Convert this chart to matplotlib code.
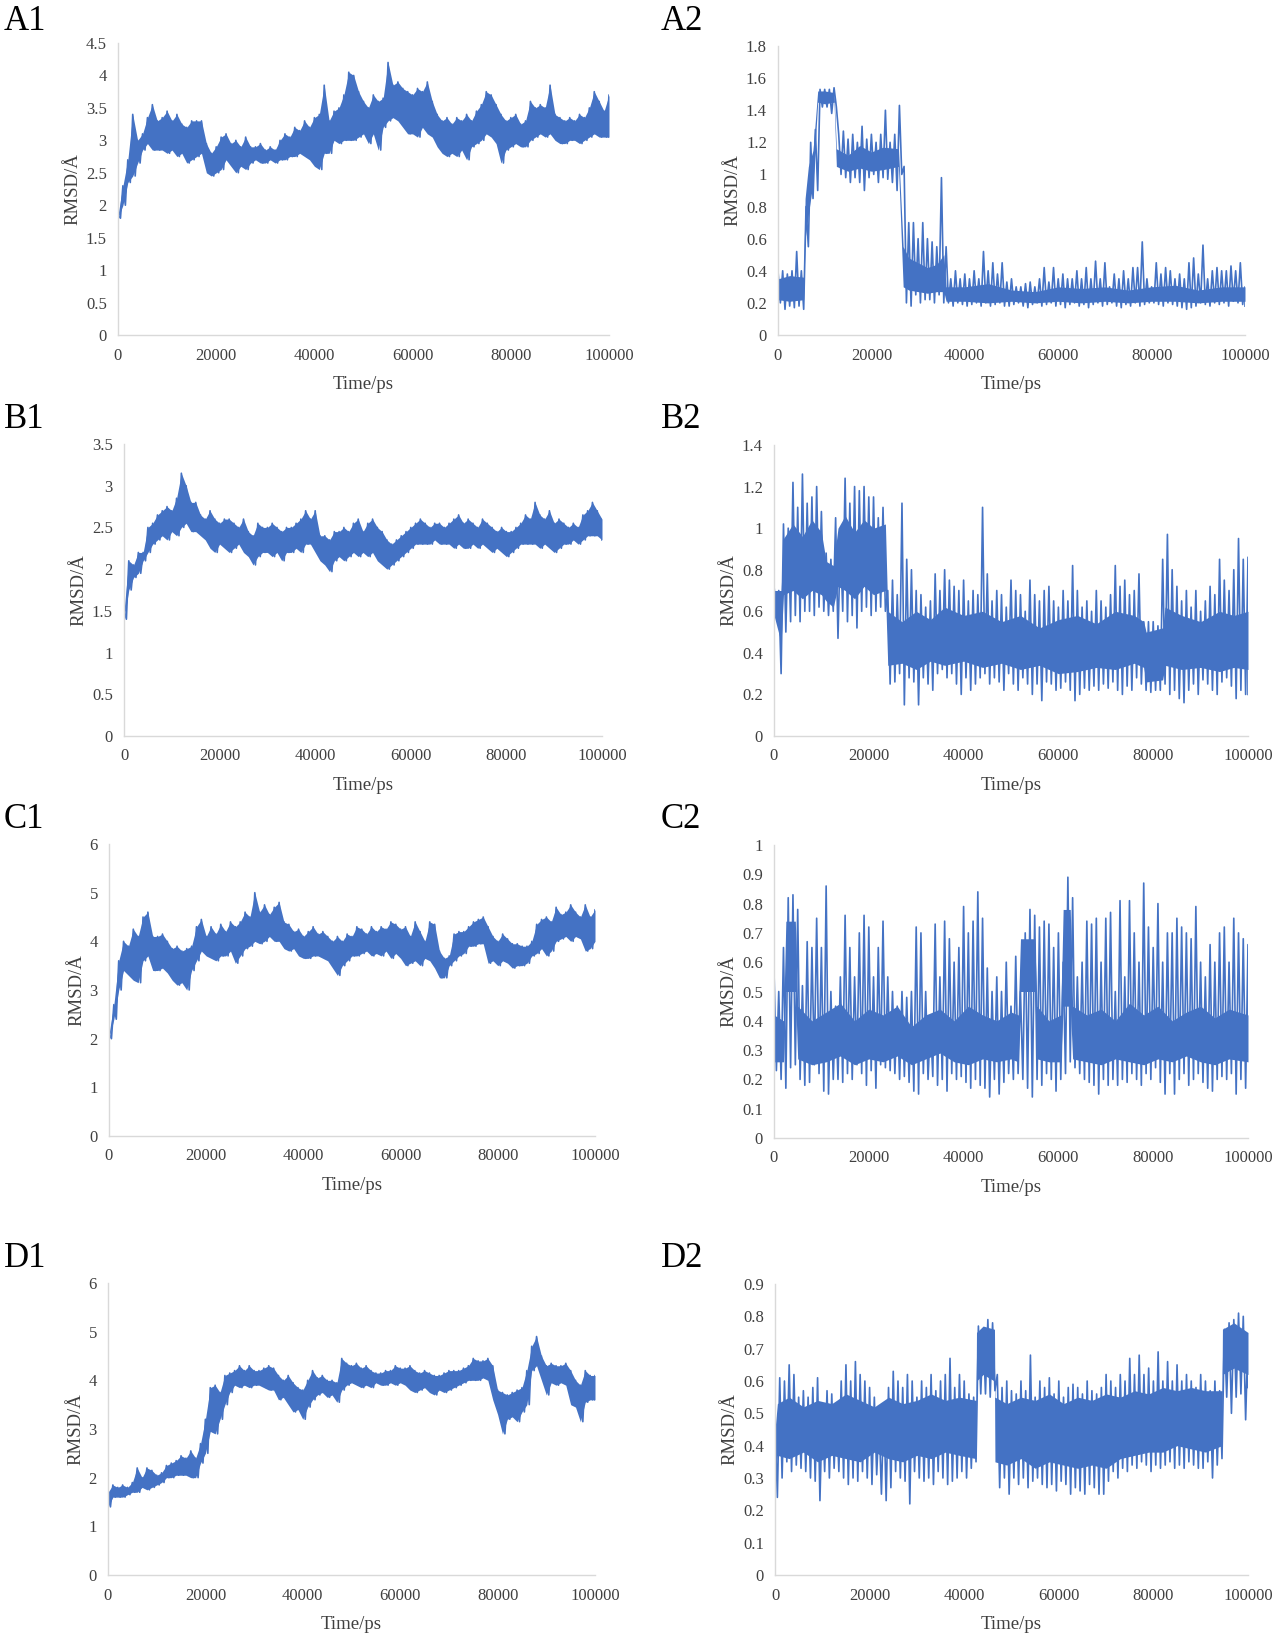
import numpy as np
import matplotlib
matplotlib.use("Agg")
import matplotlib.pyplot as plt
from matplotlib.ticker import FuncFormatter

plt.rcParams['font.family'] = ['Liberation Serif', 'DejaVu Serif']

# time axis (ps), one upper and one lower value read per 1000 ps
time_ps = list(range(0, 100001, 1000))

# ---- A1 ----
a1_hi = [1.85, 2.3, 2.7, 3.4, 3.0, 3.1, 3.35, 3.55, 3.3, 3.35, 3.45, 3.3, 3.4, 3.25, 3.2, 3.3, 3.3, 3.3, 2.95, 2.8,
         2.9, 3.05, 3.1, 2.95, 3.0, 2.9, 3.05, 2.9, 2.9, 2.95, 2.85, 2.9, 2.85, 3.0, 3.1, 3.05, 3.2, 3.15, 3.3, 3.2,
         3.35, 3.4, 3.85, 3.3, 3.45, 3.5, 3.7, 4.05, 4.0, 3.75, 3.6, 3.5, 3.7, 3.6, 3.65, 4.2, 3.85, 3.9, 3.8, 3.75,
         3.7, 3.8, 3.75, 3.9, 3.6, 3.4, 3.3, 3.35, 3.25, 3.35, 3.3, 3.4, 3.3, 3.45, 3.55, 3.75, 3.7, 3.55, 3.4, 3.3,
         3.35, 3.4, 3.25, 3.3, 3.6, 3.5, 3.55, 3.5, 3.85, 3.4, 3.35, 3.3, 3.35, 3.3, 3.4, 3.35, 3.5, 3.75, 3.6, 3.45,
         3.7]
a1_lo = [1.8, 2.0, 2.35, 2.45, 2.65, 2.85, 2.95, 2.85, 2.85, 2.85, 2.8, 2.85, 2.75, 2.8, 2.65, 2.7, 2.75, 2.8, 2.5, 2.45,
         2.5, 2.55, 2.7, 2.6, 2.5, 2.6, 2.55, 2.65, 2.7, 2.65, 2.65, 2.7, 2.65, 2.7, 2.7, 2.75, 2.75, 2.8, 2.75, 2.7,
         2.6, 2.55, 2.8, 2.8, 3.0, 2.95, 3.0, 3.0, 3.0, 3.05, 3.1, 2.95, 3.1, 2.85, 3.2, 3.3, 3.35, 3.3, 3.2, 3.1,
         3.1, 3.05, 3.2, 3.1, 3.05, 2.9, 2.8, 2.75, 2.8, 2.75, 2.85, 2.7, 2.9, 2.95, 3.0, 3.1, 3.05, 2.95, 2.65, 2.85,
         2.9, 2.95, 2.9, 2.9, 3.0, 3.05, 3.1, 3.05, 3.1, 3.0, 2.95, 2.95, 3.0, 3.0, 2.95, 3.0, 3.05, 3.1, 3.05, 3.05,
         3.05]

# ---- A2 ----
a2_hi = [0.4, 0.4, 0.38, 0.4, 0.52, 0.4, 0.8, 1.2, 1.28, 1.53, 1.53, 1.53, 1.54, 1.25, 1.27, 1.22, 1.25, 1.2, 1.3, 1.22,
         1.25, 1.2, 1.25, 1.4, 1.2, 1.25, 1.43, 1.05, 0.7, 0.7, 0.6, 0.7, 0.6, 0.58, 0.55, 0.98, 0.55, 0.35, 0.4, 0.35,
         0.38, 0.35, 0.4, 0.35, 0.52, 0.4, 0.45, 0.38, 0.45, 0.33, 0.35, 0.3, 0.3, 0.32, 0.33, 0.3, 0.35, 0.42, 0.33, 0.42,
         0.35, 0.38, 0.35, 0.35, 0.4, 0.35, 0.42, 0.35, 0.46, 0.35, 0.45, 0.3, 0.38, 0.35, 0.4, 0.35, 0.42, 0.42, 0.58, 0.35,
         0.3, 0.45, 0.38, 0.42, 0.4, 0.35, 0.38, 0.35, 0.45, 0.48, 0.38, 0.56, 0.35, 0.4, 0.42, 0.4, 0.4, 0.43, 0.4, 0.45,
         0.3]
a2_lo = [0.2, 0.16, 0.18, 0.17, 0.18, 0.16, 0.55, 0.85, 0.9, 1.42, 1.42, 1.38, 1.42, 1.0, 0.98, 0.95, 0.98, 0.95, 0.9, 0.98,
         1.0, 0.95, 0.98, 0.97, 0.95, 0.9, 1.0, 0.2, 0.18, 0.25, 0.2, 0.22, 0.22, 0.2, 0.25, 0.2, 0.2, 0.18, 0.2, 0.19,
         0.18, 0.19, 0.2, 0.18, 0.2, 0.18, 0.19, 0.2, 0.18, 0.18, 0.19, 0.2, 0.18, 0.17, 0.19, 0.2, 0.18, 0.19, 0.2, 0.18,
         0.19, 0.17, 0.19, 0.2, 0.18, 0.19, 0.17, 0.19, 0.2, 0.18, 0.19, 0.2, 0.18, 0.17, 0.19, 0.18, 0.2, 0.18, 0.19, 0.2,
         0.2, 0.19, 0.18, 0.2, 0.19, 0.18, 0.17, 0.16, 0.17, 0.18, 0.2, 0.19, 0.18, 0.2, 0.19, 0.2, 0.18, 0.21, 0.2, 0.19,
         0.18]
# dense core of the A2 trace (breakpoints)
a2_core_t = [0, 2500, 5500, 5800, 6500, 7500, 8500, 10000, 12000, 12500, 15000, 17500, 20000, 22500, 25800, 26800,
             28000, 30000, 32000, 34000, 35500, 36000, 40000, 45000, 50000, 55000, 60000, 65000, 70000, 75000, 80000,
             85000, 90000, 95000, 100000]
a2_core_lo = [0.22, 0.21, 0.22, 0.6, 0.75, 0.95, 1.45, 1.44, 1.45, 1.05, 1.02, 1.04, 1.02, 1.03, 1.05, 0.3,
              0.28, 0.27, 0.26, 0.27, 0.27, 0.21, 0.21, 0.2, 0.21, 0.2, 0.21, 0.2, 0.21, 0.2, 0.21,
              0.21, 0.2, 0.21, 0.21]
a2_core_hi = [0.35, 0.37, 0.36, 0.85, 1.05, 1.15, 1.52, 1.52, 1.51, 1.16, 1.12, 1.18, 1.14, 1.17, 1.16, 0.55,
              0.48, 0.45, 0.42, 0.44, 0.5, 0.3, 0.3, 0.32, 0.28, 0.27, 0.3, 0.29, 0.3, 0.28, 0.3,
              0.31, 0.28, 0.3, 0.3]

# ---- B1 ----
b1_hi = [1.5, 2.1, 2.05, 2.2, 2.2, 2.5, 2.55, 2.65, 2.7, 2.75, 2.7, 2.85, 3.15, 3.0, 2.8, 2.8, 2.65, 2.6, 2.7, 2.6,
         2.55, 2.6, 2.6, 2.55, 2.5, 2.6, 2.45, 2.4, 2.55, 2.5, 2.5, 2.55, 2.5, 2.45, 2.5, 2.5, 2.55, 2.6, 2.7, 2.6,
         2.7, 2.4, 2.4, 2.35, 2.45, 2.45, 2.5, 2.45, 2.55, 2.6, 2.45, 2.55, 2.6, 2.5, 2.45, 2.35, 2.3, 2.35, 2.4, 2.45,
         2.5, 2.55, 2.6, 2.55, 2.5, 2.55, 2.55, 2.5, 2.55, 2.6, 2.65, 2.55, 2.6, 2.55, 2.5, 2.6, 2.55, 2.5, 2.45, 2.5,
         2.45, 2.45, 2.5, 2.55, 2.65, 2.6, 2.8, 2.65, 2.6, 2.7, 2.55, 2.6, 2.55, 2.5, 2.55, 2.5, 2.65, 2.7, 2.8, 2.7,
         2.6]
b1_lo = [1.4, 1.75, 1.9, 1.95, 2.1, 2.2, 2.3, 2.35, 2.4, 2.35, 2.45, 2.4, 2.5, 2.55, 2.45, 2.45, 2.4, 2.35, 2.25, 2.2,
         2.3, 2.25, 2.2, 2.25, 2.3, 2.2, 2.15, 2.05, 2.15, 2.2, 2.2, 2.15, 2.2, 2.1, 2.2, 2.2, 2.25, 2.2, 2.3, 2.3,
         2.2, 2.1, 2.05, 1.97, 2.1, 2.15, 2.1, 2.15, 2.2, 2.15, 2.2, 2.15, 2.2, 2.1, 2.05, 2.0, 2.05, 2.1, 2.15, 2.2,
         2.25, 2.3, 2.3, 2.3, 2.3, 2.35, 2.3, 2.3, 2.3, 2.25, 2.3, 2.25, 2.25, 2.3, 2.25, 2.3, 2.25, 2.2, 2.25, 2.2,
         2.15, 2.2, 2.25, 2.3, 2.3, 2.3, 2.3, 2.25, 2.3, 2.25, 2.2, 2.25, 2.3, 2.3, 2.35, 2.3, 2.35, 2.4, 2.4, 2.4,
         2.35]

# ---- B2 ----
b2_hi = [0.72, 0.7, 1.02, 1.0, 1.22, 1.1, 1.26, 1.12, 1.15, 1.2, 1.08, 0.88, 0.85, 1.05, 0.95, 1.24, 1.12, 1.2, 1.18, 1.2,
         1.15, 1.15, 1.05, 1.1, 0.7, 0.75, 0.68, 1.12, 0.85, 0.8, 0.7, 0.68, 0.62, 0.65, 0.78, 0.7, 0.8, 0.75, 0.72, 0.7,
         0.75, 0.65, 0.7, 0.68, 1.1, 0.78, 0.65, 0.7, 0.68, 0.62, 0.75, 0.7, 0.68, 0.6, 0.75, 0.68, 0.65, 0.7, 0.72, 0.65,
         0.62, 0.7, 0.65, 0.82, 0.7, 0.62, 0.65, 0.6, 0.7, 0.65, 0.62, 0.68, 0.82, 0.72, 0.75, 0.68, 0.7, 0.78, 0.55, 0.55,
         0.55, 0.53, 0.85, 0.97, 0.8, 0.72, 0.65, 0.7, 0.62, 0.7, 0.6, 0.65, 0.72, 0.68, 0.85, 0.75, 0.7, 0.8, 0.95, 0.85,
         0.86]
b2_lo = [0.6, 0.3, 0.5, 0.55, 0.58, 0.55, 0.6, 0.6, 0.58, 0.62, 0.6, 0.58, 0.6, 0.47, 0.6, 0.55, 0.58, 0.52, 0.6, 0.62,
         0.58, 0.6, 0.62, 0.6, 0.25, 0.26, 0.3, 0.15, 0.28, 0.26, 0.15, 0.28, 0.25, 0.22, 0.3, 0.32, 0.28, 0.3, 0.25, 0.2,
         0.28, 0.22, 0.25, 0.28, 0.3, 0.25, 0.28, 0.26, 0.22, 0.3, 0.25, 0.22, 0.28, 0.25, 0.2, 0.25, 0.17, 0.26, 0.25, 0.22,
         0.23, 0.26, 0.22, 0.17, 0.2, 0.23, 0.22, 0.24, 0.22, 0.25, 0.23, 0.26, 0.22, 0.2, 0.24, 0.22, 0.28, 0.25, 0.22, 0.21,
         0.22, 0.22, 0.25, 0.2, 0.22, 0.18, 0.16, 0.22, 0.25, 0.2, 0.27, 0.25, 0.22, 0.2, 0.26, 0.28, 0.24, 0.18, 0.22, 0.2,
         0.2]
b2_core_t = [0, 1500, 2000, 4000, 6000, 8000, 10000, 11000, 12500, 13500, 15000, 17000, 19000, 21000, 23500, 24000,
             27000, 30000, 33000, 36000, 40000, 44000, 48000, 52000, 56000, 60000, 64000, 68000, 72000, 76000, 78000,
             78500, 82000, 82500, 86000, 90000, 94000, 97000, 100000]
b2_core_lo = [0.58, 0.45, 0.68, 0.7, 0.66, 0.7, 0.68, 0.65, 0.62, 0.72, 0.7, 0.66, 0.72, 0.68, 0.7, 0.34,
              0.35, 0.32, 0.36, 0.34, 0.36, 0.33, 0.35, 0.32, 0.34, 0.3, 0.31, 0.33, 0.32, 0.35, 0.33,
              0.26, 0.27, 0.34, 0.32, 0.33, 0.31, 0.33, 0.32]
b2_core_hi = [0.7, 0.7, 0.95, 1.02, 0.96, 1.04, 0.98, 0.84, 0.82, 1.0, 1.06, 0.98, 1.04, 1.0, 1.02, 0.6,
              0.55, 0.6, 0.56, 0.62, 0.58, 0.6, 0.55, 0.58, 0.52, 0.56, 0.58, 0.54, 0.6, 0.58, 0.55,
              0.5, 0.52, 0.62, 0.58, 0.55, 0.6, 0.58, 0.6]

# ---- C1 ----
c1_hi = [2.1, 2.7, 3.6, 4.0, 3.9, 4.25, 4.1, 4.5, 4.6, 4.1, 4.1, 4.15, 4.0, 3.85, 3.9, 3.8, 3.85, 3.9, 4.3, 4.45,
         4.1, 4.3, 4.15, 4.35, 4.2, 4.4, 4.3, 4.4, 4.6, 4.5, 5.0, 4.6, 4.75, 4.55, 4.7, 4.8, 4.4, 4.35, 4.2, 4.25,
         4.1, 4.2, 4.3, 4.15, 4.2, 4.1, 4.0, 4.1, 4.0, 4.15, 4.1, 4.3, 4.25, 4.15, 4.3, 4.2, 4.3, 4.25, 4.4, 4.35,
         4.25, 4.3, 4.1, 4.4, 4.2, 4.0, 4.4, 4.35, 3.8, 3.65, 3.7, 4.15, 4.2, 4.2, 4.3, 4.4, 4.45, 4.5, 4.3, 4.1,
         4.0, 4.15, 4.05, 3.95, 3.95, 3.9, 3.9, 4.0, 4.35, 4.45, 4.5, 4.4, 4.7, 4.55, 4.6, 4.75, 4.6, 4.5, 4.75, 4.5,
         4.65]
c1_lo = [2.0, 2.4, 3.0, 3.4, 3.3, 3.2, 3.15, 3.6, 3.7, 3.4, 3.4, 3.45, 3.35, 3.2, 3.1, 3.15, 3.0, 3.4, 3.6, 3.8,
         3.7, 3.65, 3.6, 3.7, 3.7, 3.8, 3.55, 3.7, 3.85, 3.9, 4.0, 3.95, 4.0, 4.1, 4.0, 4.0, 3.85, 3.8, 3.85, 3.7,
         3.65, 3.65, 3.7, 3.7, 3.65, 3.6, 3.45, 3.3, 3.5, 3.6, 3.7, 3.7, 3.75, 3.8, 3.7, 3.75, 3.7, 3.8, 3.65, 3.75,
         3.65, 3.5, 3.55, 3.6, 3.5, 3.65, 3.6, 3.45, 3.25, 3.25, 3.5, 3.6, 3.7, 3.75, 3.9, 3.9, 3.95, 3.95, 3.55, 3.6,
         3.5, 3.6, 3.55, 3.45, 3.5, 3.5, 3.55, 3.7, 3.75, 3.85, 3.7, 3.8, 4.0, 4.05, 4.1, 4.0, 4.1, 4.05, 3.8, 3.85,
         4.0]

# ---- C2 ----
c2_hi = [0.57, 0.5, 0.65, 0.82, 0.83, 0.78, 0.52, 0.67, 0.65, 0.75, 0.65, 0.86, 0.5, 0.45, 0.55, 0.76, 0.65, 0.55, 0.7, 0.76,
         0.72, 0.55, 0.65, 0.74, 0.55, 0.5, 0.45, 0.5, 0.48, 0.5, 0.72, 0.7, 0.5, 0.4, 0.73, 0.55, 0.74, 0.68, 0.6, 0.65,
         0.79, 0.7, 0.74, 0.84, 0.75, 0.58, 0.5, 0.55, 0.5, 0.6, 0.45, 0.62, 0.5, 0.7, 0.78, 0.76, 0.72, 0.74, 0.73, 0.65,
         0.7, 0.6, 0.89, 0.82, 0.55, 0.6, 0.74, 0.73, 0.75, 0.6, 0.75, 0.77, 0.5, 0.81, 0.55, 0.81, 0.7, 0.6, 0.87, 0.72,
         0.65, 0.8, 0.6, 0.7, 0.7, 0.75, 0.72, 0.7, 0.68, 0.79, 0.6, 0.55, 0.66, 0.6, 0.7, 0.72, 0.6, 0.75, 0.7, 0.68,
         0.66]
c2_lo = [0.23, 0.2, 0.17, 0.24, 0.25, 0.2, 0.18, 0.19, 0.25, 0.22, 0.16, 0.15, 0.2, 0.2, 0.19, 0.22, 0.2, 0.25, 0.22, 0.18,
         0.23, 0.17, 0.25, 0.24, 0.23, 0.22, 0.2, 0.21, 0.19, 0.16, 0.15, 0.22, 0.2, 0.21, 0.18, 0.2, 0.16, 0.22, 0.2, 0.21,
         0.19, 0.17, 0.2, 0.18, 0.17, 0.14, 0.2, 0.15, 0.19, 0.22, 0.2, 0.22, 0.2, 0.17, 0.14, 0.2, 0.18, 0.22, 0.2, 0.16,
         0.2, 0.22, 0.26, 0.24, 0.22, 0.2, 0.19, 0.18, 0.15, 0.2, 0.18, 0.2, 0.18, 0.2, 0.19, 0.22, 0.2, 0.18, 0.22, 0.2,
         0.24, 0.19, 0.15, 0.22, 0.15, 0.2, 0.22, 0.18, 0.2, 0.22, 0.19, 0.17, 0.16, 0.2, 0.21, 0.2, 0.22, 0.15, 0.2, 0.17,
         0.3]
c2_core_t = [0, 2000, 2500, 4500, 5000, 8000, 11000, 14000, 17000, 20000, 23000, 26000, 29000, 32000, 35000, 38000,
             41000, 44000, 47000, 50000, 51500, 52000, 55000, 55500, 58000, 60500, 61000, 62500, 63000, 66000, 69000,
             72000, 75000, 78000, 81000, 84000, 87000, 90000, 93000, 96000, 100000]
c2_core_lo = [0.26, 0.26, 0.5, 0.5, 0.27, 0.25, 0.26, 0.28, 0.25, 0.27, 0.26, 0.28, 0.25, 0.27, 0.29, 0.26,
              0.25, 0.27, 0.26, 0.27, 0.26, 0.5, 0.5, 0.27, 0.26, 0.26, 0.45, 0.45, 0.27, 0.26, 0.25,
              0.27, 0.26, 0.25, 0.27, 0.26, 0.28, 0.26, 0.25, 0.27, 0.26]
c2_core_hi = [0.42, 0.4, 0.74, 0.74, 0.45, 0.4, 0.43, 0.46, 0.4, 0.44, 0.42, 0.45, 0.38, 0.42, 0.44, 0.4,
              0.45, 0.42, 0.4, 0.43, 0.42, 0.68, 0.68, 0.45, 0.4, 0.42, 0.78, 0.78, 0.45, 0.42, 0.44,
              0.4, 0.46, 0.42, 0.45, 0.4, 0.43, 0.45, 0.41, 0.44, 0.42]

# ---- D1 ----
d1_hi = [1.7, 1.85, 1.8, 1.85, 1.8, 1.9, 2.2, 2.0, 2.2, 2.15, 2.05, 2.1, 2.25, 2.3, 2.35, 2.45, 2.4, 2.55, 2.4, 2.7,
         3.2, 3.85, 3.9, 3.75, 4.1, 4.15, 4.2, 4.3, 4.2, 4.3, 4.2, 4.2, 4.25, 4.3, 4.25, 4.1, 4.0, 4.1, 3.95, 3.85,
         3.8, 4.0, 4.2, 4.05, 4.1, 4.0, 4.0, 3.95, 4.45, 4.35, 4.3, 4.35, 4.25, 4.3, 4.2, 4.15, 4.15, 4.2, 4.2, 4.3,
         4.25, 4.25, 4.3, 4.2, 4.15, 4.2, 4.15, 4.1, 4.1, 4.15, 4.2, 4.2, 4.2, 4.25, 4.3, 4.45, 4.4, 4.4, 4.45, 4.3,
         3.8, 3.75, 3.7, 3.75, 3.8, 3.85, 4.2, 4.7, 4.9, 4.5, 4.3, 4.35, 4.3, 4.3, 4.35, 4.2, 4.0, 3.9, 4.2, 4.1,
         4.1]
d1_lo = [1.4, 1.6, 1.6, 1.6, 1.65, 1.7, 1.7, 1.8, 1.75, 1.8, 1.85, 1.9, 2.0, 2.0, 2.05, 2.05, 2.05, 2.0, 2.0, 2.3,
         2.5, 2.95, 2.9, 3.2, 3.5, 3.75, 3.9, 3.85, 3.9, 3.85, 3.9, 3.9, 3.85, 3.8, 3.8, 3.6, 3.65, 3.5, 3.35, 3.4,
         3.2, 3.45, 3.6, 3.7, 3.75, 3.65, 3.7, 3.55, 3.8, 3.9, 3.95, 3.9, 3.85, 3.9, 3.85, 3.95, 3.9, 3.9, 3.95, 3.9,
         3.95, 3.9, 3.8, 3.75, 3.8, 3.85, 3.75, 3.7, 3.8, 3.75, 3.8, 3.85, 3.9, 3.95, 4.0, 4.0, 4.0, 4.05, 4.0, 3.6,
         3.3, 2.9, 3.2, 3.25, 3.15, 3.35, 3.5, 4.2, 4.3, 4.0, 3.7, 3.95, 3.9, 3.95, 3.9, 3.5, 3.45, 3.15, 3.55, 3.6,
         3.6]

# ---- D2 ----
d2_hi = [0.48, 0.61, 0.6, 0.65, 0.62, 0.55, 0.57, 0.55, 0.58, 0.61, 0.52, 0.57, 0.56, 0.52, 0.6, 0.65, 0.6, 0.66, 0.62, 0.6,
         0.58, 0.55, 0.48, 0.53, 0.58, 0.63, 0.6, 0.58, 0.62, 0.6, 0.55, 0.6, 0.58, 0.62, 0.57, 0.6, 0.62, 0.67, 0.58, 0.62,
         0.6, 0.56, 0.55, 0.77, 0.76, 0.79, 0.78, 0.62, 0.58, 0.6, 0.57, 0.56, 0.6, 0.57, 0.68, 0.55, 0.6, 0.58, 0.61, 0.56,
         0.6, 0.55, 0.58, 0.59, 0.58, 0.56, 0.6, 0.57, 0.56, 0.58, 0.62, 0.6, 0.58, 0.62, 0.6, 0.67, 0.62, 0.68, 0.62, 0.64,
         0.6, 0.69, 0.6, 0.66, 0.6, 0.65, 0.6, 0.62, 0.6, 0.58, 0.62, 0.6, 0.57, 0.6, 0.57, 0.76, 0.78, 0.79, 0.81, 0.8,
         0.74]
d2_lo = [0.24, 0.3, 0.35, 0.32, 0.34, 0.33, 0.32, 0.3, 0.29, 0.23, 0.32, 0.3, 0.33, 0.32, 0.3, 0.28, 0.3, 0.29, 0.32, 0.3,
         0.28, 0.31, 0.25, 0.23, 0.27, 0.32, 0.3, 0.29, 0.22, 0.32, 0.3, 0.29, 0.3, 0.28, 0.32, 0.3, 0.28, 0.29, 0.3, 0.32,
         0.3, 0.33, 0.35, 0.56, 0.56, 0.55, 0.57, 0.27, 0.3, 0.25, 0.3, 0.28, 0.3, 0.27, 0.29, 0.3, 0.28, 0.27, 0.28, 0.26,
         0.29, 0.28, 0.25, 0.27, 0.26, 0.25, 0.28, 0.27, 0.25, 0.25, 0.29, 0.32, 0.3, 0.33, 0.32, 0.34, 0.33, 0.35, 0.34, 0.32,
         0.34, 0.33, 0.34, 0.35, 0.33, 0.34, 0.33, 0.35, 0.34, 0.33, 0.33, 0.35, 0.3, 0.34, 0.36, 0.55, 0.5, 0.55, 0.56, 0.48,
         0.58]
d2_core_t = [0, 500, 3000, 6000, 9000, 12000, 15000, 18000, 21000, 24000, 27000, 30000, 33000, 36000, 39000, 42500,
             42600, 44000, 46400, 46500, 49000, 52000, 55000, 58000, 61000, 64000, 67000, 70000, 73000, 76000, 79000,
             82000, 85000, 88000, 91000, 94500, 94600, 97000, 100000]
d2_core_lo = [0.3, 0.37, 0.36, 0.38, 0.35, 0.37, 0.36, 0.35, 0.38, 0.36, 0.35, 0.37, 0.36, 0.38, 0.37, 0.36,
              0.6, 0.62, 0.6, 0.35, 0.34, 0.36, 0.33, 0.35, 0.34, 0.33, 0.34, 0.33, 0.36, 0.37, 0.38,
              0.38, 0.4, 0.39, 0.38, 0.4, 0.62, 0.64, 0.62]
d2_core_hi = [0.45, 0.53, 0.55, 0.52, 0.54, 0.53, 0.56, 0.54, 0.52, 0.55, 0.53, 0.54, 0.56, 0.54, 0.55, 0.54,
              0.75, 0.77, 0.76, 0.55, 0.53, 0.55, 0.54, 0.56, 0.53, 0.55, 0.54, 0.56, 0.55, 0.57, 0.56,
              0.58, 0.57, 0.58, 0.57, 0.57, 0.76, 0.78, 0.75]

BLUE = '#4472C4'

panels = [
    # label, hi, lo, core (or None), ymax, ystep, axes box in px (left, top, right, bottom), label x, label baseline
    ("A1", a1_hi, a1_lo, None, 4.5, 0.5, (118, 43, 609, 335), 4, 30),
    ("A2", a2_hi, a2_lo, (a2_core_t, a2_core_lo, a2_core_hi), 1.8, 0.2, (778, 46, 1245, 335), 661, 30),
    ("B1", b1_hi, b1_lo, None, 3.5, 0.5, (124, 444, 602, 736), 4, 428),
    ("B2", b2_hi, b2_lo, (b2_core_t, b2_core_lo, b2_core_hi), 1.4, 0.2, (774, 445, 1248, 736), 661, 428),
    ("C1", c1_hi, c1_lo, None, 6, 1, (109, 844, 595, 1136), 4, 828),
    ("C2", c2_hi, c2_lo, (c2_core_t, c2_core_lo, c2_core_hi), 1.0, 0.1, (774, 845, 1248, 1138), 661, 828),
    ("D1", d1_hi, d1_lo, None, 6, 1, (108, 1283, 595, 1575), 4, 1267),
    ("D2", d2_hi, d2_lo, (d2_core_t, d2_core_lo, d2_core_hi), 0.9, 0.1, (775, 1284, 1248, 1575), 661, 1267),
]

W, H = 1279, 1637
fig = plt.figure(figsize=(W / 100, H / 100), dpi=100)

t = np.array(time_ps)
for name, hi, lo, core, ymax, ystep, (l, tp, r, b), lx, ly in panels:
    ax = fig.add_axes([l / W, 1 - b / H, (r - l) / W, (b - tp) / H])

    # solid body of the trace
    if core is None:
        ax.fill_between(t, lo, hi, color=BLUE, lw=0)
    else:
        ax.fill_between(core[0], core[1], core[2], color=BLUE, lw=0)

    # alternate upper / lower readings to draw the noisy spikes
    xs = np.column_stack([t, np.minimum(t + 500, 100000)]).ravel()
    ys = np.column_stack([hi, lo]).ravel()
    ax.plot(xs, ys, color=BLUE, lw=1.2)

    ax.set_xlim(0, 100000)
    ax.set_ylim(0, ymax)
    ax.set_xticks(range(0, 100001, 20000))
    ax.set_yticks(np.arange(0, ymax + ystep / 2, ystep))
    ax.yaxis.set_major_formatter(FuncFormatter(lambda v, p: f'{round(v, 2):g}'))
    ax.xaxis.set_major_formatter(FuncFormatter(lambda v, p: f'{int(v)}'))

    for s in ['top', 'right']:
        ax.spines[s].set_visible(False)
    for s in ['left', 'bottom']:
        ax.spines[s].set_color('#d9d9d9')
        ax.spines[s].set_linewidth(1.0)
    ax.tick_params(length=0, labelsize=12, colors='#404040')
    ax.tick_params(axis='x', pad=9)
    ax.tick_params(axis='y', pad=8)
    ax.set_xlabel('Time/ps', fontsize=13.5, color='#404040', labelpad=9)
    ax.set_ylabel('RMSD/Å', fontsize=13.5, color='#404040', labelpad=3)

    fig.text(lx / W, 1 - ly / H, name, fontsize=25, ha='left', va='baseline', color='black')

fig.savefig('out.png', dpi=100)
